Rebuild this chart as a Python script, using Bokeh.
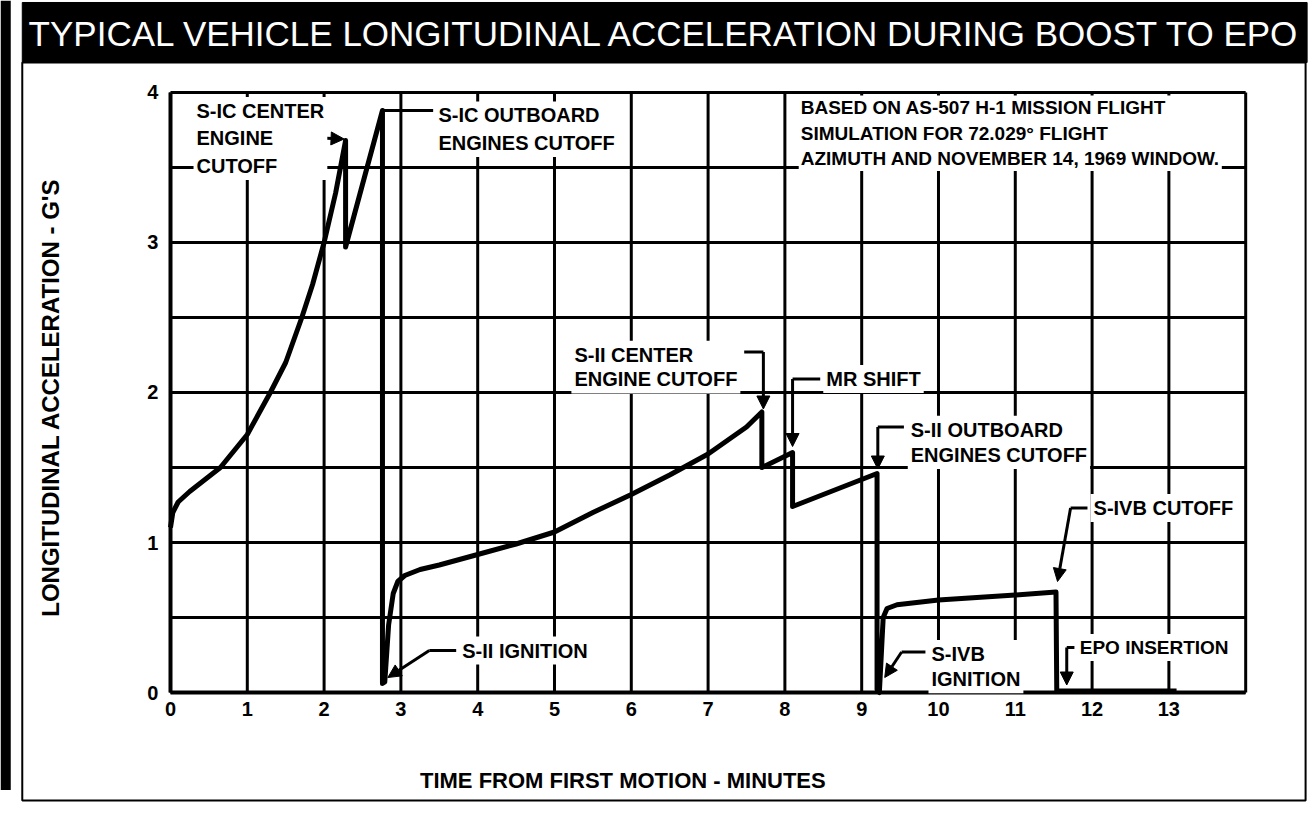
import math
from bokeh.plotting import figure
from bokeh.models import (Label, BoxAnnotation, Arrow, NormalHead, FixedTicker,
                          ColumnDataSource, LinearAxis)
from bokeh.embed import file_html
from bokeh.resources import INLINE

# ---------------- texts ----------------
title_text = "TYPICAL VEHICLE LONGITUDINAL ACCELERATION DURING BOOST TO EPO"
x_title = "TIME FROM FIRST MOTION - MINUTES"
y_title = "LONGITUDINAL ACCELERATION - G'S"
note_lines = ["BASED ON AS-507 H-1 MISSION FLIGHT",
              "SIMULATION FOR 72.029\u00b0 FLIGHT",
              "AZIMUTH AND NOVEMBER 14, 1969 WINDOW."]

# ---------------- ticks / grid ----------------
x_tick_values = [0, 1, 2, 3, 4, 5, 6, 7, 8, 9, 10, 11, 12, 13]
y_tick_values = [0, 1, 2, 3, 4]
x_grid_values = [0, 1, 2, 3, 4, 5, 6, 7, 8, 9, 10, 11, 12, 13, 14]
y_grid_values = [0, 0.5, 1, 1.5, 2, 2.5, 3, 3.5, 4]

# ---------------- data (minutes, g) ----------------
sic_time = [0, 0.03, 0.1, 0.25, 0.5, 0.65, 1.0, 1.3, 1.5, 1.71, 1.85, 2.0, 2.15, 2.28, 2.28, 2.76, 2.76]
sic_g = [1.1, 1.2, 1.27, 1.34, 1.44, 1.5, 1.72, 2.0, 2.2, 2.5, 2.72, 3.0, 3.33, 3.68, 2.97, 3.88, 0.06]

sii_time = [2.79, 2.84, 2.9, 2.96, 3.05, 3.25, 3.5, 4.0, 4.5, 5.0, 5.5, 6.0, 6.5, 7.0, 7.5, 7.7, 7.7, 8.1, 8.1, 9.2, 9.2]
sii_g = [0.07, 0.45, 0.66, 0.74, 0.78, 0.82, 0.85, 0.92, 0.99, 1.07, 1.2, 1.32, 1.45, 1.59, 1.77, 1.87, 1.5, 1.6, 1.24, 1.46, 0.02]

sivb_time = [9.23, 9.26, 9.28, 9.33, 9.46, 10.0, 10.5, 11.0, 11.53, 11.54, 13.1]
sivb_g = [0.0, 0.3, 0.5, 0.56, 0.585, 0.617, 0.633, 0.65, 0.67, 0.01, 0.01]

# events pointed at by the callouts
event_names = ["S-IC CENTER\nENGINE\nCUTOFF", "S-IC OUTBOARD\nENGINES CUTOFF", "S-II IGNITION",
               "S-II CENTER\nENGINE CUTOFF", "MR SHIFT", "S-II OUTBOARD\nENGINES CUTOFF",
               "S-IVB\nIGNITION", "S-IVB CUTOFF", "EPO INSERTION"]
event_time = [2.26, 2.76, 2.83, 7.72, 8.1, 9.21, 9.3, 11.55, 11.67]
event_g = [3.69, 3.88, 0.1, 1.89, 1.64, 1.49, 0.1, 0.74, 0.05]

# callout layout: text anchor, baseline, line height, font size, leader elbow points, arrow head?
callouts = [
    dict(tx=0.3, ty=3.97, base="top", lh=1.25, fs=20, px=[1.36], py=[3.71], head=True),
    dict(tx=3.45, ty=3.94, base="top", lh=1.25, fs=20, px=[3.42], py=[3.88], head=False),
    dict(tx=3.76, ty=0.28, base="middle", lh=1.2, fs=20, px=[3.72, 3.37], py=[0.28, 0.28], head=True),
    dict(tx=5.22, ty=2.345, base="top", lh=1.125, fs=20, px=[7.47, 7.72], py=[2.27, 2.27], head=True),
    dict(tx=8.5, ty=2.09, base="middle", lh=1.2, fs=20, px=[8.46, 8.1], py=[2.09, 2.09], head=True),
    dict(tx=9.6, ty=1.845, base="top", lh=1.15, fs=20, px=[9.55, 9.21], py=[1.77, 1.77], head=True),
    dict(tx=9.87, ty=0.35, base="top", lh=1.15, fs=20, px=[9.83, 9.52], py=[0.27, 0.27], head=True),
    dict(tx=11.98, ty=1.23, base="middle", lh=1.2, fs=20, px=[11.94, 11.72], py=[1.23, 1.23], head=True),
    dict(tx=11.8, ty=0.3, base="middle", lh=1.2, fs=19, px=[11.77, 11.67], py=[0.3, 0.3], head=True),
]

FONT = "Liberation Sans"

# the frame covers the whole canvas so that the title band and border can be drawn
X0, X1 = -2.2135, 14.870
Y0, Y1 = -0.8533, 4.6133

p = figure(width=1312, height=820, x_range=(X0, X1), y_range=(Y0, Y1),
           output_backend="svg", toolbar_location=None,
           x_axis_location=None, y_axis_location=None,
           min_border=0, min_border_left=0, min_border_right=0, min_border_top=0, min_border_bottom=0,
           background_fill_color="white", border_fill_color="white")
p.outline_line_color = None
p.xgrid.visible = False
p.ygrid.visible = False

# grid drawn only over the 0-14 min / 0-4 g area
p.segment(x0=x_grid_values, y0=[y_grid_values[0]] * len(x_grid_values),
          x1=x_grid_values, y1=[y_grid_values[-1]] * len(x_grid_values),
          line_color="black", line_width=3)
p.segment(x0=[x_grid_values[0]] * len(y_grid_values), y0=y_grid_values,
          x1=[x_grid_values[-1]] * len(y_grid_values), y1=y_grid_values,
          line_color="black", line_width=3)

xaxis = LinearAxis(fixed_location=0, bounds=(x_grid_values[0], x_grid_values[-1]),
                   ticker=FixedTicker(ticks=x_tick_values))
yaxis = LinearAxis(fixed_location=0, bounds=(y_grid_values[0], y_grid_values[-1]),
                   ticker=FixedTicker(ticks=y_tick_values))
for ax in (xaxis, yaxis):
    ax.axis_line_width = 4
    ax.axis_line_color = "black"
    ax.major_tick_line_color = None
    ax.minor_tick_line_color = None
    ax.major_tick_out = 0
    ax.major_tick_in = 0
    ax.minor_tick_out = 0
    ax.minor_tick_in = 0
    ax.major_label_text_font = FONT
    ax.major_label_text_font_style = "bold"
    ax.major_label_text_font_size = "20px"
    ax.major_label_text_color = "black"
xaxis.major_label_standoff = 9
yaxis.major_label_standoff = 12
p.add_layout(xaxis, "below")
p.add_layout(yaxis, "left")

# scan edge, outer frame and title band
p.add_layout(BoxAnnotation(left=X0, right=-2.08, top=Y1, bottom=-0.65,
                           fill_color="black", fill_alpha=1, line_alpha=0))
p.add_layout(BoxAnnotation(left=-1.93, right=14.78, top=4.2, bottom=-0.72,
                           fill_alpha=0, line_color="black", line_alpha=1, line_width=2))
p.add_layout(BoxAnnotation(left=-1.93, right=14.8, top=4.6, bottom=4.2,
                           fill_color="black", fill_alpha=1, line_color="black", line_alpha=1, line_width=1))
p.add_layout(Label(x=6.45, y=4.395, text=title_text, text_align="center", text_baseline="middle",
                   text_font=FONT, text_font_size="35px", text_color="white"))

# axis titles
p.add_layout(Label(x=5.89, y=-0.587, text=x_title, text_align="center", text_baseline="middle",
                   text_font=FONT, text_font_style="bold", text_font_size="22px",
                   text_color="black"))
p.add_layout(Label(x=-1.5625, y=1.967, text=y_title, angle=math.pi / 2,
                   text_align="center", text_baseline="middle",
                   text_font=FONT, text_font_style="bold", text_font_size="24px",
                   text_color="black"))

# curve
curve_time = sic_time + sii_time + sivb_time
curve_g = sic_g + sii_g + sivb_g
src = ColumnDataSource(dict(t=curve_time, g=curve_g))
p.line("t", "g", source=src, line_width=5, line_color="black", line_join="round")

# callouts
for name, et, eg, c in zip(event_names, event_time, event_g, callouts):
    xs = c["px"] + [et]
    ys = c["py"] + [eg]
    if len(xs) > 2:
        p.line(xs[:-1], ys[:-1], line_width=3, line_color="black")
    if c["head"]:
        p.add_layout(Arrow(end=NormalHead(size=13, fill_color="black", line_color="black"),
                           x_start=xs[-2], y_start=ys[-2], x_end=xs[-1], y_end=ys[-1],
                           line_width=3, line_color="black"))
    else:
        p.line(xs[-2:], ys[-2:], line_width=3, line_color="black")
    p.add_layout(Label(x=c["tx"], y=c["ty"], text=name, text_align="left", text_baseline=c["base"],
                       text_font=FONT, text_font_style="bold", text_font_size=f"{c['fs']}px",
                       text_line_height=c["lh"], text_color="black",
                       background_fill_color="white", background_fill_alpha=1.0, padding=3))

# note
p.add_layout(Label(x=8.18, y=3.98, text="\n".join(note_lines), text_align="left", text_baseline="top",
                   text_font=FONT, text_font_style="bold", text_font_size="19px",
                   text_line_height=1.2, text_color="black",
                   background_fill_color="white", background_fill_alpha=1.0, padding=2))

open("out.html", "w").write(file_html(p, INLINE))
